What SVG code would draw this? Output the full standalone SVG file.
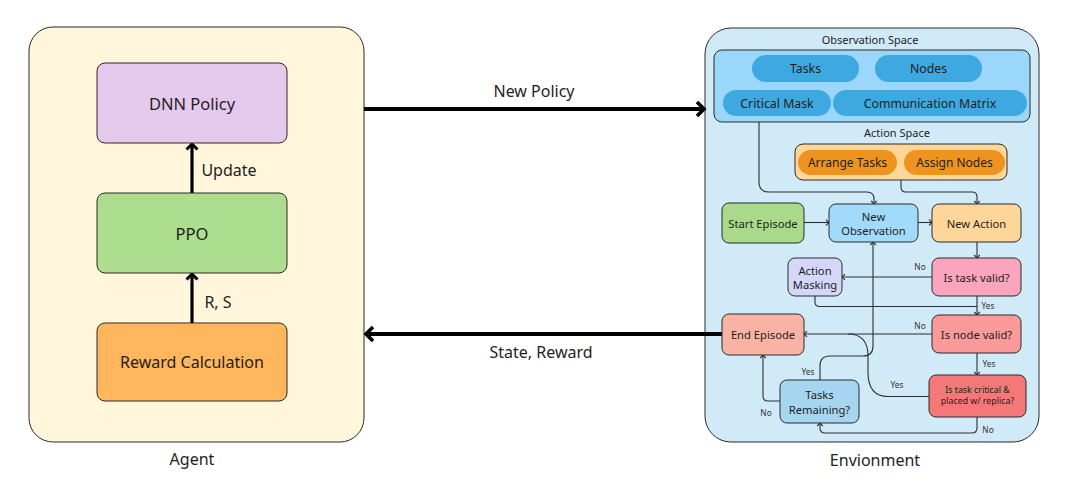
<svg xmlns="http://www.w3.org/2000/svg" width="1072" height="490" viewBox="0 0 1072 490">
<defs>
<style>
text{font-family:"Noto Sans","Open Sans",sans-serif;fill:#1e1e1e;text-anchor:middle;dominant-baseline:central}
.panel{stroke:#2b2b2b;stroke-width:1}
.box{stroke:#2b2b2b;stroke-width:1}
.big{font-size:16px}
.mid{font-size:12.3px}
.sm{font-size:11.2px}
.xs{font-size:8.8px}
.lbl{font-size:8.3px;fill:#333}
.thick{fill:none;stroke:#000;stroke-width:4}
.med{fill:none;stroke:#000;stroke-width:3.2}
.thin{fill:none;stroke:#2e2e2e;stroke-width:1.1}
</style>
<marker id="ah" markerUnits="userSpaceOnUse" markerWidth="24" markerHeight="24" viewBox="-12 -12 24 24" refX="-2" refY="0" orient="auto" overflow="visible">
<path d="M-8,-7 L-1,0 L-8,7" fill="none" stroke="#000" stroke-width="3.6" stroke-linejoin="miter"/>
</marker>
<marker id="am" markerUnits="userSpaceOnUse" markerWidth="20" markerHeight="20" viewBox="-10 -10 20 20" refX="-1.5" refY="0" orient="auto" overflow="visible">
<path d="M-6,-5.5 L-0.5,0 L-6,5.5" fill="none" stroke="#000" stroke-width="3" stroke-linejoin="miter"/>
</marker>
<marker id="at" markerUnits="userSpaceOnUse" markerWidth="10" markerHeight="10" viewBox="-5 -5 10 10" refX="0" refY="0" orient="auto" overflow="visible">
<path d="M-3,-2.8 L0,0 L-3,2.8" fill="none" stroke="#2e2e2e" stroke-width="1.1"/>
</marker>
</defs>

<g id="agent">
<rect class="panel" x="29" y="27" width="335" height="415" rx="24" fill="#FFF6DC"/>
<text class="big" x="192" y="459">Agent</text>
</g>

<g id="environment">
<rect class="panel" x="705" y="28" width="334" height="414" rx="26" fill="#D1EAF8"/>
<text class="big" x="875" y="460">Envionment</text>
</g>

<g id="observation-space">
<text style="font-size:11px" x="870" y="39">Observation Space</text>
<rect class="box" x="714" y="50" width="316" height="72" rx="8" fill="#9AD7FB"/>
<rect x="752" y="55" width="107" height="27" rx="13.5" fill="#3DA9E0"/>
<text class="mid" x="805.5" y="68.5">Tasks</text>
<rect x="875" y="55" width="107" height="27" rx="13.5" fill="#3DA9E0"/>
<text class="mid" x="928.5" y="68.5">Nodes</text>
<rect x="723" y="90" width="108" height="26" rx="13" fill="#3DA9E0"/>
<text class="mid" x="777" y="103">Critical Mask</text>
<rect x="833" y="90" width="194" height="26" rx="13" fill="#3DA9E0"/>
<text class="mid" x="930" y="103">Communication Matrix</text>
</g>

<g id="action-space">
<text style="font-size:11px" x="897" y="132">Action Space</text>
<rect class="box" x="795" y="144" width="212" height="36" rx="8" fill="#FFD699"/>
<rect x="798" y="150" width="99" height="25" rx="12.5" fill="#EF931F"/>
<text style="font-size:12px" x="847.5" y="162.5">Arrange Tasks</text>
<rect x="904" y="150" width="101" height="25" rx="12.5" fill="#EF931F"/>
<text style="font-size:12px" x="954.5" y="162.5">Assign Nodes</text>
</g>

<g id="connectors">
<path class="thick" d="M364,109 H703" marker-end="url(#ah)"/>
<text class="big" x="534" y="91">New Policy</text>
<path class="thick" d="M722,334 H367" marker-end="url(#ah)"/>
<text class="big" x="541" y="352">State, Reward</text>
<path class="med" d="M192,193 V145" marker-end="url(#am)"/>
<text class="big" x="229" y="170">Update</text>
<path class="med" d="M192,323 V275" marker-end="url(#am)"/>
<text class="big" x="218" y="302">R, S</text>

<path class="thin" d="M759,122 V182 Q759,192 769,192 H867 Q874,192 874,199 V204" marker-end="url(#at)"/>
<path class="thin" d="M901,180 V187 Q901,192 906,192 H972 Q977,192 977,197 V204" marker-end="url(#at)"/>
<path class="thin" d="M804,222.5 H829" marker-end="url(#at)"/>
<path class="thin" d="M918,222.5 H932" marker-end="url(#at)"/>
<path class="thin" d="M977,242 V258" marker-end="url(#at)"/>
<path class="thin" d="M932,277 H842" marker-end="url(#at)"/>
<text class="lbl" x="920" y="266">No</text>
<path class="thin" d="M815,296 V302 Q815,306.5 819.5,306.5 H977"/>
<path class="thin" d="M977,296 V315" marker-end="url(#at)"/>
<text class="lbl" x="988" y="305">Yes</text>
<path class="thin" d="M932,334 H804" marker-end="url(#at)"/>
<text class="lbl" x="920" y="325">No</text>
<path class="thin" d="M977,353 V375" marker-end="url(#at)"/>
<text class="lbl" x="989" y="363">Yes</text>
<path class="thin" d="M929,396.5 H888 C873,396.5 868,386 868,372 V356 C868,342 862,334 848,334"/>
<text class="lbl" x="897" y="384">Yes</text>
<path class="thin" d="M820,380 V366 Q820,356 830,356 H863 Q873,356 873,346 V242" marker-end="url(#at)"/>
<text class="lbl" x="808" y="371">Yes</text>
<path class="thin" d="M780,401 H768 Q763,401 763,396 V355" marker-end="url(#at)"/>
<text class="lbl" x="766" y="412">No</text>
<path class="thin" d="M977,417 V428 Q977,433 972,433 H825 Q820,433 820,428 V423" marker-end="url(#at)"/>
<text class="lbl" x="988" y="429">No</text>
</g>

<g id="dnn-policy">
<rect class="box" x="97" y="63" width="190" height="80" rx="8" fill="#E5C9EC"/>
<text class="big" style="font-size:16.5px" x="192" y="103">DNN Policy</text>
</g>
<g id="ppo">
<rect class="box" x="97" y="193" width="190" height="80" rx="8" fill="#ADDD8E"/>
<text class="big" style="font-size:16.5px" x="192" y="233">PPO</text>
</g>
<g id="reward-calculation">
<rect class="box" x="97" y="323" width="190" height="78" rx="8" fill="#FFB65C"/>
<text class="big" x="192" y="362">Reward Calculation</text>
</g>

<g id="start-episode">
<rect class="box" x="722" y="203" width="82" height="40" rx="7" fill="#A9D98B"/>
<text class="sm" x="763" y="223">Start Episode</text>
</g>
<g id="new-observation">
<rect class="box" x="829" y="204" width="89" height="38" rx="7" fill="#A2DAFB"/>
<text class="sm" x="873.5" y="216">New</text>
<text class="sm" x="873.5" y="230">Observation</text>
</g>
<g id="new-action">
<rect class="box" x="932" y="204" width="89" height="38" rx="7" fill="#FFD699"/>
<text class="sm" x="976.5" y="223">New Action</text>
</g>
<g id="action-masking">
<rect class="box" x="788" y="258" width="54" height="38" rx="7" fill="#D4D6FA"/>
<text class="sm" x="815" y="270">Action</text>
<text class="sm" x="815" y="284">Masking</text>
</g>
<g id="is-task-valid">
<rect class="box" x="932" y="258" width="89" height="38" rx="7" fill="#FAA5BD"/>
<text class="sm" x="976.5" y="277">Is task valid?</text>
</g>
<g id="is-node-valid">
<rect class="box" x="932" y="315" width="89" height="38" rx="7" fill="#FA9A9A"/>
<text class="sm" x="976.5" y="334">Is node valid?</text>
</g>
<g id="end-episode">
<rect class="box" x="722" y="314" width="82" height="41" rx="7" fill="#F9B3A4"/>
<text class="sm" x="763" y="334.5">End Episode</text>
</g>
<g id="tasks-remaining">
<rect class="box" x="780" y="380" width="79" height="43" rx="7" fill="#A6D5EF"/>
<text class="sm" x="819.5" y="394">Tasks</text>
<text class="sm" x="819.5" y="409">Remaining?</text>
</g>
<g id="is-task-critical">
<rect class="box" x="929" y="375" width="97" height="42" rx="7" fill="#F47878"/>
<text class="xs" x="977.5" y="390">Is task critical &amp;</text>
<text class="xs" x="977.5" y="401">placed w/ replica?</text>
</g>
</svg>
